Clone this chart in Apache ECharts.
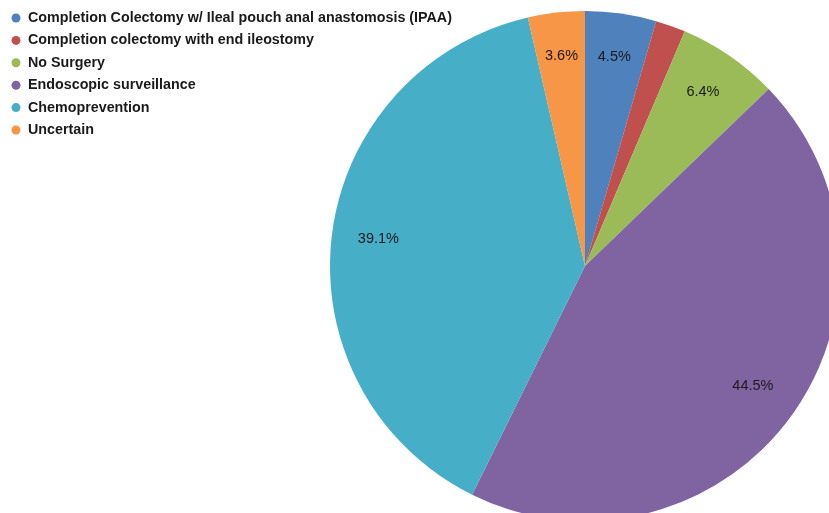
<!DOCTYPE html>
<html>
<head>
<meta charset="utf-8">
<script src="https://cdn.jsdelivr.net/npm/echarts@6/dist/echarts.min.js"></script>
<style>html,body{margin:0;padding:0;background:#fff;}#c{width:829px;height:513px;}</style>
</head>
<body>
<div id="c"></div>
<script>
const categories = [
  'Completion Colectomy w/ Ileal pouch anal anastomosis (IPAA)',
  'Completion colectomy with end ileostomy',
  'No Surgery',
  'Endoscopic surveillance',
  'Chemoprevention',
  'Uncertain'
];
const values = [4.5, 1.9, 6.4, 44.5, 39.1, 3.6];
const colors = ['#4F81BD', '#C0504D', '#9BBB59', '#8064A2', '#47AEC8', '#F79646'];

const chart = echarts.init(document.getElementById('c'), null, {renderer: 'canvas'});
const data = categories.map((n, i) => ({name: n, value: values[i]}));
chart.setOption({
  animation: false,
  color: colors,
  legend: {
    orient: 'vertical',
    left: 11.5,
    top: 11,
    padding: 0,
    icon: 'circle',
    itemWidth: 9,
    itemHeight: 9,
    itemGap: 8.4,
    selectedMode: false,
    textStyle: {fontFamily: 'Liberation Sans', fontWeight: 'bold', fontSize: 14.3, color: '#1a1a1a', padding: [0, 0, 0, 2.5]},
    data: categories
  },
  series: [
    {
      type: 'pie',
      center: [585, 266],
      radius: [0, 255],
      startAngle: 90,
      clockwise: true,
      silent: true,
      label: {show: false},
      labelLine: {show: false},
      itemStyle: {borderWidth: 0},
      data: data
    },
    {
      type: 'pie',
      center: [585, 266],
      radius: [200, 210],
      startAngle: 90,
      clockwise: true,
      silent: true,
      itemStyle: {color: 'rgba(0,0,0,0)'},
      label: {
        show: true,
        position: 'inside',
        fontFamily: 'Liberation Sans',
        fontSize: 14.5,
        color: '#1a1a1a',
        offset: [0, -3],
        formatter: p => p.value < 2 ? '' : p.value.toFixed(1) + '%'
      },
      labelLine: {show: false},
      data: data
    }
  ]
});
</script>
</body>
</html>
